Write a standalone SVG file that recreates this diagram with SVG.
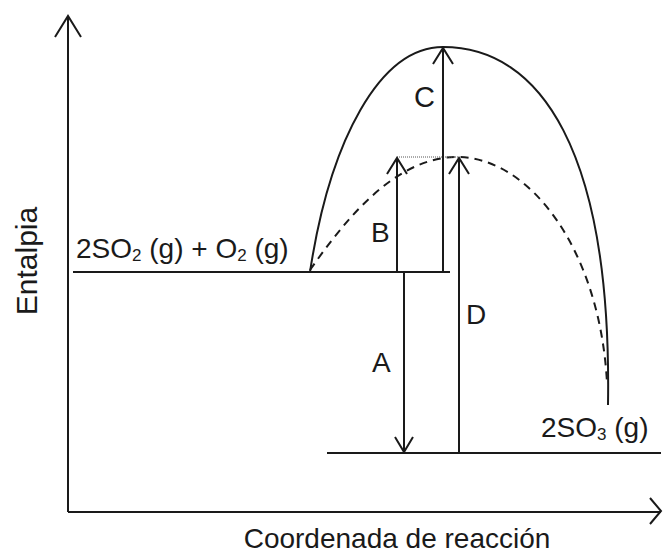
<svg xmlns="http://www.w3.org/2000/svg" width="663" height="555" viewBox="0 0 663 555">
<style>
.ln{stroke:#1a1a1a;stroke-width:2;fill:none}
.ah{stroke:#1a1a1a;stroke-width:2;fill:none;stroke-linejoin:miter}
.t{font-family:"Liberation Sans",Arial,sans-serif;font-size:28px;fill:#1a1a1a}
.s{font-size:17px}
</style>
<rect width="663" height="555" fill="#fff"/>
<g id="axes">
<line class="ln" x1="68" y1="16" x2="68" y2="512"/>
<polyline class="ah" points="55,37 68,16 81,37"/>
<line class="ln" x1="68" y1="512" x2="661" y2="512"/>
<polyline class="ah" points="650,498 661,511 650,524"/>
<text class="t" style="font-size:30px" transform="translate(37,261) rotate(-90)" text-anchor="middle">Entalpia</text>
<text class="t" x="397" y="548" text-anchor="middle">Coordenada de reacción</text>
</g>
<g id="reactants">
<line class="ln" x1="73" y1="272" x2="450" y2="272"/>
<text class="t" x="76" y="258">2SO<tspan class="s" dy="3">2</tspan><tspan dy="-3"> (g) + O</tspan><tspan class="s" dy="3">2</tspan><tspan dy="-3"> (g)</tspan></text>
</g>
<g id="products">
<line class="ln" x1="327" y1="453" x2="661" y2="453"/>
<text class="t" x="541" y="437">2SO<tspan class="s" dy="3">3</tspan><tspan dy="-3"> (g)</tspan></text>
</g>
<g id="connectors">
<path class="ln" d="M310,272 C330,140 380,47 443,47 C540,47 612,150 608,405"/>
<path class="ln" stroke-width="1.8" stroke-dasharray="8,6" d="M310,270 C345,220 395,157 457,157 C530,157 600,250 607,383"/>
<line x1="397" y1="157" x2="459" y2="157" stroke="#555" stroke-width="1" stroke-dasharray="1,1"/>
<g id="arrowC">
<line class="ln" x1="443" y1="272" x2="443" y2="48"/>
<polyline class="ah" points="433,64 443,48 453,64"/>
<text class="t" style="font-size:29px" x="414" y="107">C</text>
</g>
<g id="arrowB">
<line class="ln" x1="397" y1="272" x2="397" y2="158"/>
<polyline class="ah" points="387,174 397,158 407,174"/>
<text class="t" x="371" y="242">B</text>
</g>
<g id="arrowD">
<line class="ln" x1="459" y1="453" x2="459" y2="158"/>
<polyline class="ah" points="449,174 459,158 469,174"/>
<text class="t" x="466" y="324">D</text>
</g>
<g id="arrowA">
<line class="ln" x1="404" y1="272" x2="404" y2="452"/>
<polyline class="ah" points="395,437 404,452 413,437"/>
<text class="t" x="372" y="372">A</text>
</g>
</g>
</svg>
